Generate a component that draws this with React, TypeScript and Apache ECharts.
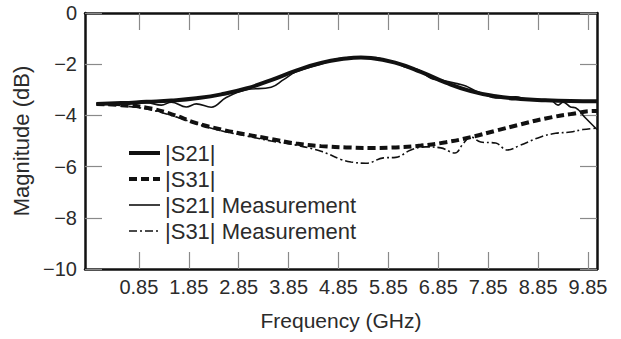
import React, { useEffect, useRef } from "react";
import * as echarts from "echarts";

const tickValues = [0.85, 1.85, 2.85, 3.85, 4.85, 5.85, 6.85, 7.85, 8.85, 9.85];
const tickLabels = ["0.85", "1.85", "2.85", "3.85", "4.85", "5.85", "6.85", "7.85", "8.85", "9.85"];

const s21SimFreq = [0, 0.5, 1, 1.5, 2, 2.5, 3, 3.5, 4, 4.5, 5, 5.3, 5.5, 6, 6.5, 7, 7.5, 8, 8.5, 9, 9.5, 10, 10.03];
const s21SimVal = [-3.55, -3.52, -3.47, -3.42, -3.33, -3.18, -2.95, -2.62, -2.25, -1.95, -1.78, -1.74, -1.76, -1.95, -2.3, -2.72, -3.05, -3.25, -3.36, -3.41, -3.44, -3.45, -3.45];

const s31SimFreq = [0, 0.5, 1, 1.5, 2, 2.5, 3, 3.5, 4, 4.5, 5, 5.5, 6, 6.5, 7, 7.5, 8, 8.5, 9, 9.5, 10, 10.03];
const s31SimVal = [-3.55, -3.6, -3.7, -3.95, -4.3, -4.55, -4.75, -4.92, -5.1, -5.2, -5.25, -5.27, -5.25, -5.18, -5.05, -4.85, -4.6, -4.35, -4.12, -3.95, -3.83, -3.83];

const s21MeasFreq = [0, 0.5, 1.0, 1.3, 1.5, 1.8, 2.0, 2.3, 2.6, 3.0, 3.5, 3.75, 4.0, 4.5, 4.8, 5.0, 5.2, 5.4, 5.6, 5.8, 6.0, 6.2, 6.45, 6.7, 6.9, 7.2, 7.4, 7.6, 7.8, 8.0, 8.2, 8.4, 8.6, 8.9, 9.1, 9.25, 9.35, 9.5, 9.6, 9.8, 10.03];
const s21MeasVal = [-3.55, -3.53, -3.5, -3.6, -3.48, -3.67, -3.55, -3.68, -3.3, -3.0, -2.9, -2.6, -2.3, -2.0, -1.8, -1.75, -1.72, -1.75, -1.74, -1.85, -1.95, -2.12, -2.22, -2.55, -2.62, -2.75, -2.85, -3.05, -3.2, -3.32, -3.3, -3.27, -3.35, -3.38, -3.4, -3.6, -3.48, -3.67, -3.7, -4.1, -4.55];

const s31MeasFreq = [0, 0.5, 1, 1.5, 2, 2.5, 3, 3.5, 4, 4.5, 4.9, 5.1, 5.4, 5.75, 6.0, 6.3, 6.6, 6.9, 7.18, 7.35, 7.5, 7.7, 8.0, 8.23, 8.5, 8.9, 9.2, 9.5, 9.75, 10.03];
const s31MeasVal = [-3.55, -3.62, -3.75, -4.0, -4.32, -4.6, -4.8, -5.0, -5.16, -5.4, -5.72, -5.82, -5.87, -5.66, -5.64, -5.35, -5.23, -5.27, -5.47, -5.1, -4.84, -5.04, -5.08, -5.35, -5.16, -4.84, -4.7, -4.65, -4.55, -4.5];

const seriesNames = ["|S21|", "|S31|", "|S21| Measurement", "|S31| Measurement"];

const pairs = (xs: number[], ys: number[]) => xs.map((x, i) => [x, ys[i]]);

const FONT = "Liberation Sans, Arial, Helvetica, sans-serif";
const TEXT = "#2b2b2b";

export default function App() {
  const ref = useRef<HTMLDivElement>(null);
  useEffect(() => {
    if (!ref.current) return;
    const chart = echarts.init(ref.current, undefined, { renderer: "svg" });
    const axisLine = { show: true, onZero: false, lineStyle: { color: "#111", width: 2.5 } };
    const tickStyle = { color: "#8a8a8a", width: 1.2 };
    const styles = [
      { width: 4, type: "solid" as any },
      { width: 4, type: [8, 4] as any },
      { width: 1.6, type: "solid" as any },
      { width: 1.6, type: [8, 3, 2, 3] as any },
    ];
    chart.setOption({
      animation: false,
      textStyle: { fontFamily: FONT },
      grid: { left: 85, right: 24, top: 13, bottom: 70, containLabel: false },
      legend: {
        orient: "vertical",
        left: 127,
        top: 142,
        itemWidth: 31,
        itemHeight: 14,
        itemGap: 4,
        padding: 0,
        itemStyle: { opacity: 0 },
        textStyle: { fontSize: 22, color: TEXT, fontFamily: FONT, lineHeight: 21 },
        data: seriesNames.map((n, i) => ({
          name: n,
          itemStyle: { opacity: 0 },
          lineStyle: { color: "#111", width: styles[i].width, type: styles[i].type },
        })),
      },
      xAxis: [
        {
          type: "value",
          position: "bottom",
          min: -0.23,
          max: 10.03,
          name: "Frequency (GHz)",
          nameLocation: "middle",
          nameGap: 41,
          nameTextStyle: { fontSize: 21, color: TEXT, fontFamily: FONT },
          axisLine,
          splitLine: { show: false },
          axisTick: { show: true, inside: true, length: 17, lineStyle: tickStyle, customValues: tickValues },
          axisLabel: {
            show: true,
            fontSize: 20,
            color: TEXT,
            margin: 8,
            fontFamily: FONT,
            customValues: tickValues,
            formatter: (v: number) => {
              const i = tickValues.findIndex((t) => Math.abs(t - v) < 1e-6);
              return i >= 0 ? tickLabels[i] : "";
            },
          },
        },
        {
          type: "value",
          position: "top",
          min: -0.23,
          max: 10.03,
          axisLine,
          splitLine: { show: false },
          axisTick: { show: true, inside: true, length: 17, lineStyle: tickStyle, customValues: tickValues },
          axisLabel: { show: false },
        },
      ],
      yAxis: [
        {
          type: "value",
          position: "left",
          min: -10,
          max: 0,
          interval: 2,
          name: "Magnitude (dB)",
          nameLocation: "middle",
          nameGap: 47,
          nameTextStyle: { fontSize: 22, color: TEXT, fontFamily: FONT },
          axisLine,
          splitLine: { show: false },
          axisTick: { show: true, inside: true, length: 17, lineStyle: tickStyle },
          axisLabel: {
            fontSize: 20,
            color: TEXT,
            margin: 8,
            fontFamily: FONT,
            formatter: (v: number) => (v < 0 ? "\u2212" + Math.abs(v) : String(v)),
          },
        },
        {
          type: "value",
          position: "right",
          min: -10,
          max: 0,
          interval: 2,
          axisLine,
          splitLine: { show: false },
          axisTick: { show: true, inside: true, length: 17, lineStyle: tickStyle },
          axisLabel: { show: false },
        },
      ],
      series: [
        {
          name: seriesNames[0],
          type: "line",
          data: pairs(s21SimFreq, s21SimVal),
          smooth: true,
          symbol: "none",
          lineStyle: { color: "#111", width: styles[0].width, type: styles[0].type },
          itemStyle: { color: "#111" },
          z: 4,
        },
        {
          name: seriesNames[1],
          type: "line",
          data: pairs(s31SimFreq, s31SimVal),
          smooth: true,
          symbol: "none",
          lineStyle: { color: "#111", width: styles[1].width, type: styles[1].type },
          itemStyle: { color: "#111" },
          z: 4,
        },
        {
          name: seriesNames[2],
          type: "line",
          data: pairs(s21MeasFreq, s21MeasVal),
          smooth: 0.4,
          symbol: "none",
          lineStyle: { color: "#111", width: styles[2].width, type: styles[2].type },
          itemStyle: { color: "#111" },
          z: 3,
        },
        {
          name: seriesNames[3],
          type: "line",
          data: pairs(s31MeasFreq, s31MeasVal),
          smooth: 0.4,
          symbol: "none",
          lineStyle: { color: "#111", width: styles[3].width, type: styles[3].type },
          itemStyle: { color: "#111" },
          z: 3,
        },
      ],
    });
    return () => chart.dispose();
  }, []);
  return (
    <div
      ref={ref}
      style={{ position: "fixed", left: 0, top: 0, width: 621, height: 339, background: "#fff" }}
    />
  );
}
